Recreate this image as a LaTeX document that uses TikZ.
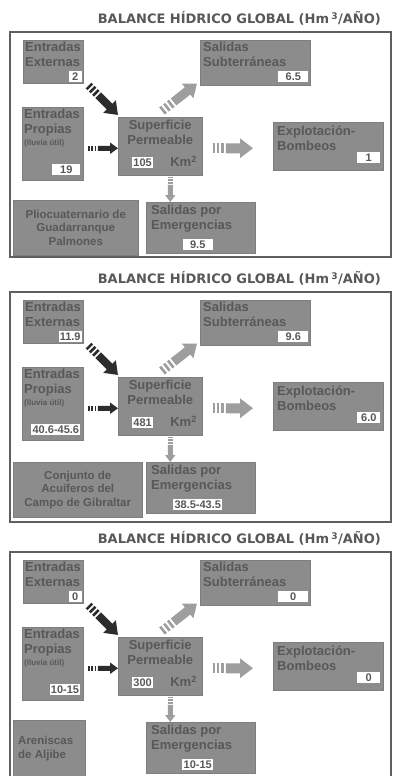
\documentclass[tikz,border=0pt]{standalone}
\usepackage{fontspec}
\setmainfont{Liberation Sans}
\newfontfamily\titlefont{DejaVu Sans}
\usetikzlibrary{calc,arrows.meta}
\definecolor{boxgray}{RGB}{140,140,140}
\definecolor{txtgray}{RGB}{88,88,88}
\definecolor{framegray}{RGB}{95,95,95}
\definecolor{darkarrow}{RGB}{45,45,45}
\definecolor{lightarrow}{RGB}{158,158,158}
\tikzset{
  box/.style={fill=boxgray, draw=boxgray!90!black, line width=0.5pt, anchor=north west, inner sep=0pt},
  lbl/.style={font=\bfseries\fontsize{13}{15}\selectfont, text=txtgray, align=left, anchor=north west, inner sep=0pt},
  lblc/.style={font=\bfseries\fontsize{13}{15}\selectfont, text=txtgray, align=center, anchor=north, inner sep=0pt},
  geolbl/.style={font=\bfseries\fontsize{11.5}{13.5}\selectfont, text=txtgray, align=center, inner sep=0pt},
  val/.style={fill=white, font=\bfseries\fontsize{11}{11}\selectfont, text=txtgray, inner sep=1.2pt, minimum height=11pt},
  ttl/.style={font=\titlefont\bfseries\fontsize{13}{15}\selectfont, text=txtgray, anchor=east, inner sep=0pt},
  frm/.style={draw=framegray, line width=1.3pt},
  frmtop/.style={draw=framegray, line width=2.2pt},
}
\newcommand\blockarrow[6]{%
  \draw[#1, line width=#4, -{Triangle[length=#6,width=#5]}] ($(#2)!0.33!(#3)$) -- (#3);
  \foreach \ta/\tb in {0/0.06, 0.11/0.17, 0.22/0.28}{%
    \draw[#1, line width=#4] ($(#2)!\ta!(#3)$) -- ($(#2)!\tb!(#3)$);}
}
\newcommand\balpanel[8]{%
  \node[ttl] (ttl#1) at (381,18.5) {BALANCE HÍDRICO GLOBAL (Hm\,\textsuperscript{3}/AÑO)};
  \draw[frm] (10,32) -- (10,#8) -- (391,#8) -- (391,32);
  \draw[frmtop] (9,32) -- (392,32);
  % Entradas externas
  \node[box, minimum width=60pt, minimum height=43pt] (ext#1) at (23,40) {};
  \node[lbl] (extl#1) at ($(ext#1.north west)+(2,2)$) {Entradas\\Externas};
  \node[val, minimum width=13pt, anchor=south east] (extv#1) at ([xshift=-1.5pt,yshift=1.5pt]ext#1.south east) {#2};
  % Salidas subterraneas
  \node[box, minimum width=110pt, minimum height=45pt] (sal#1) at (200,40) {};
  \node[lbl] (sall#1) at ($(sal#1.north west)+(3,2)$) {Salidas\\Subterráneas};
  \node[val, minimum width=30pt, anchor=south east] (salv#1) at ([xshift=-2pt,yshift=3pt]sal#1.south east) {#3};
  % Entradas propias
  \node[box, minimum width=61pt, minimum height=73pt] (prop#1) at (22,107) {};
  \node[lbl] (propl#1) at ($(prop#1.north west)+(2,2)$) {Entradas\\Propias\\[-3pt]{\fontsize{8}{9}\selectfont (lluvia útil)}};
  \node[val, minimum width=28pt, anchor=south east] (propv#1) at ([xshift=-3pt,yshift=5pt]prop#1.south east) {#4};
  % Superficie permeable
  \node[box, minimum width=84pt, minimum height=58pt] (sup#1) at (118,117) {};
  \node[lblc] (supl#1) at ($(sup#1.north)+(0,3)$) {Superficie\\Permeable};
  \node[val, anchor=south west] (supv#1) at ([xshift=14pt,yshift=7pt]sup#1.south west) {#5};
  \node[lbl, anchor=base west] (supk#1) at ([xshift=17pt]supv#1.base east) {Km\textsuperscript{2}};
  % Explotacion
  \node[box, minimum width=110pt, minimum height=48pt] (exp#1) at (273,122) {};
  \node[lbl] (expl#1) at ($(exp#1.north west)+(4,4)$) {Explotación-\\Bombeos};
  \node[val, minimum width=23pt, anchor=south east] (expv#1) at ([xshift=-3pt,yshift=7pt]exp#1.south east) {#6};
  % Salidas por emergencias
  \node[box, minimum width=109pt, minimum height=51pt] (eme#1) at (146,202) {};
  \node[lbl] (emel#1) at ($(eme#1.north west)+(5,3)$) {Salidas por\\Emergencias};
  \node[val, minimum width=30pt, anchor=south] (emev#1) at ([xshift=-3pt,yshift=3pt]eme#1.south) {#7};
  % arrows
  \coordinate (a1#1) at ($(ext#1.south east)+(5,2)$);
  \coordinate (a2#1) at ($(sup#1.north west)+(0,-2)$);
  \blockarrow{darkarrow}{a1#1}{a2#1}{8pt}{17pt}{12pt}
  \coordinate (b1#1) at ($(sup#1.north west)+(44,-6)$);
  \coordinate (b2#1) at ($(sal#1.south west)+(-3,-2)$);
  \blockarrow{lightarrow}{b1#1}{b2#1}{9pt}{18pt}{12pt}
  \coordinate (c1#1) at ($(sup#1.west)+(-30,2)$);
  \coordinate (c2#1) at ($(sup#1.west)+(0,2)$);
  \blockarrow{darkarrow}{c1#1}{c2#1}{5pt}{11pt}{8pt}
  \coordinate (d1#1) at ($(sup#1.east)+(10,2)$);
  \coordinate (d2#1) at ($(exp#1.west)+(-20,2)$);
  \blockarrow{lightarrow}{d1#1}{d2#1}{10pt}{19pt}{13pt}
  \coordinate (e1#1) at ($(sup#1.south)+(10,1)$);
  \coordinate (e2#1) at (e1#1 |- eme#1.north);
  \blockarrow{lightarrow}{e1#1}{e2#1}{5pt}{10pt}{7pt}
}
\begin{document}
\begin{tikzpicture}[x=1pt, y=-1pt]
\clip (0,0) rectangle (396,776);
\fill[white] (0,0) rectangle (396,776);
% panel 1
\begin{scope}
  \balpanel{1}{2}{6.5}{19}{105}{1}{9.5}{257}
  \node[box, minimum width=125pt, minimum height=55pt] (geo1) at (13,200) {};
  \node[geolbl] (geol1) at (geo1.center) {Pliocuaternario de\\Guadarranque\\Palmones};
\end{scope}
% panel 2
\begin{scope}[yshift=-260pt]
  \balpanel{2}{11.9}{9.6}{40.6-45.6}{481}{6.0}{38.5-43.5}{262}
  \node[box, minimum width=129pt, minimum height=55pt] (geo2) at (13,202) {};
  \node[geolbl] (geol2) at (geo2.center) {Conjunto de\\Acuíferos del\\Campo de Gibraltar};
\end{scope}
% panel 3
\begin{scope}[yshift=-520pt]
  \balpanel{3}{0}{0}{10-15}{300}{0}{10-15}{300}
  \node[box, minimum width=72pt, minimum height=80pt] (geo3) at (13,200) {};
  \node[geolbl, anchor=north west, align=left] (geol3) at ($(geo3.north west)+(5,16)$) {Areniscas\\de Aljibe};
\end{scope}
\end{tikzpicture}
\end{document}
